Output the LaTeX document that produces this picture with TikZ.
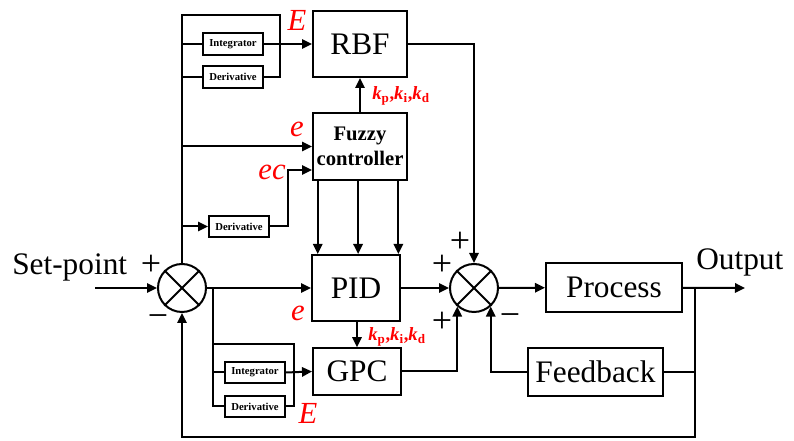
\documentclass[tikz,border=0pt]{standalone}
\usepackage{fontspec}
\setmainfont{Liberation Serif}
\usepackage{tikz}
\usetikzlibrary{calc, positioning, arrows.meta}
\definecolor{lblRed}{HTML}{FF0000}
\tikzset{
  box/.style   = {draw, line width=1.5pt, inner sep=0pt, align=center,
                  font=\fontsize{23.5}{26}\selectfont},
  tiny/.style  = {draw, line width=1.5pt, inner sep=0pt, minimum width=45pt,
                  minimum height=16pt, font=\fontsize{8}{9}\selectfont\bfseries},
  sum/.style   = {draw, circle, line width=1.5pt, minimum size=36pt, inner sep=0pt},
  ln/.style    = {line width=1.5pt},
  fl/.style    = {-{Triangle[length=7.5pt, width=7pt]}, line width=1.5pt},
  txt/.style   = {font=\fontsize{23.5}{26}\selectfont, inner sep=0pt},
  sgn/.style   = {font=\fontsize{27}{30}\selectfont, inner sep=0pt},
  var/.style   = {text=lblRed, font=\fontsize{23}{26}\selectfont\itshape, inner sep=0pt},
  gain/.style  = {text=lblRed, font=\fontsize{14}{16}\selectfont\bfseries, inner sep=0pt}
}
\newcommand{\gains}{\textit{k}\textsubscript{p},\textit{k}\textsubscript{i},\textit{k}\textsubscript{d}}

\begin{document}
\begin{tikzpicture}[x=0.75pt, y=-0.75pt]
  \useasboundingbox (0,0) rectangle (794,441);
  % summing junctions
  \node[sum] (sum1) at (182,288) {};
  \node[sum] (sum2) at (474,288) {};
  \foreach \s in {sum1,sum2} {
    \draw[ln] (\s.north west) -- (\s.south east);
    \draw[ln] (\s.north east) -- (\s.south west);
  }
  % blocks
  \node[box, minimum width=70.5pt, minimum height=49.5pt] (rbf) at (360,44) {RBF};
  \node[box, minimum width=70.5pt, minimum height=50pt,
        font=\fontsize{15.5}{18.5}\selectfont\bfseries] (fuzzy) at (360,146.5) {Fuzzy\\controller};
  \node[box, minimum width=66pt, minimum height=49.5pt] (pid) at (356,288) {PID};
  \node[box, minimum width=66pt, minimum height=35pt] (gpc) at (357,371.5) {GPC};
  \node[box, minimum width=102pt, minimum height=37pt] (proc) at (614,287.5) {Process};
  \node[box, minimum width=101pt, minimum height=36pt] (fb) at (595.5,372) {Feedback};
  \node[tiny] (intA) at (233,44) {Integrator};
  \node[tiny] (derA) at (233,77) {Derivative};
  \node[tiny] (derB) at (239,226.5) {Derivative};
  \node[tiny] (intC) at (255,372.5) {Integrator};
  \node[tiny] (derC) at (255,406.5) {Derivative};
  % helper points
  \coordinate (in) at (95,288);
  \coordinate (out) at (745,288);
  \coordinate (topR) at (280,15);
  \coordinate (ec) at (288,170);
  \coordinate (br) at (213,288);
  \coordinate (brT) at (294,344);
  \coordinate (fbT) at (695,288);
  \coordinate (bot) at (695,437);
  % main path
  \draw[fl] (in) -- (sum1.west);
  \draw[fl] (sum1) -- (pid);
  \draw[fl] (pid) -- (sum2);
  \draw[fl] (sum2) -- (proc);
  \draw[fl] (proc) -- (out);
  % upper branch
  \draw[ln] (sum1.north) |- (topR) |- (derA.east);
  \draw[ln] (sum1.north |- intA.west) -- (intA.west);
  \draw[ln] (sum1.north |- derA.west) -- (derA.west);
  \draw[fl] (intA.east) -- (rbf.west);
  \draw[fl] (sum1.north |- fuzzy.west) -- (fuzzy.west);
  \draw[fl] (sum1.north |- derB.west) -- (derB.west);
  \draw[fl] (derB.east) -| (ec) -- (ec -| fuzzy.west);
  \draw[fl] (fuzzy) -- (rbf);
  \foreach \f in {0.06,0.48,0.9}
    \draw[fl] ($(fuzzy.south west)!\f!(fuzzy.south east)$) coordinate (t) -- (t |- pid.north);
  \draw[fl] (rbf.east) -| (sum2.north);
  % lower branch
  \draw[ln] (br) |- (derC.west);
  \draw[ln] (br |- brT) -- (brT) |- (derC.east);
  \draw[ln] (br |- intC.west) -- (intC.west);
  \draw[fl] (intC.east) -- (gpc.west);
  \draw[fl] (pid.south -| gpc.north) -- (gpc.north);
  \draw[fl] (gpc.east) -| (sum2.228);
  % feedback
  \draw[ln] (fbT) |- (fb.east);
  \draw[fl] (fb.west) -| (sum2.312);
  \draw[fl] (fbT) -- (bot) -| (sum1.south);
  % labels
  \node[txt, anchor=base west] (sp) at (12,275) {Set-point};
  \node[txt, anchor=base west] (op) at (696,270) {Output};
  \node[sgn] (p1) at (151,265) {+};
  \node[sgn] (m1) at (158,321) {−};
  \node[sgn] (p2) at (460,242) {+};
  \node[sgn] (p3) at (442,265) {+};
  \node[sgn] (p4) at (442,322) {+};
  \node[sgn] (m2) at (510,320) {−};
  \node[var] (eA) at (297,20) {E};
  \node[var] (eB) at (297,129) {e};
  \node[var] (eC) at (272,172) {ec};
  \node[var] (eD) at (298,313) {e};
  \node[var] (eE) at (308,413) {E};
  \node[gain] (kA) at (401,96) {\gains};
  \node[gain] (kB) at (397,337) {\gains};
\end{tikzpicture}
\end{document}
